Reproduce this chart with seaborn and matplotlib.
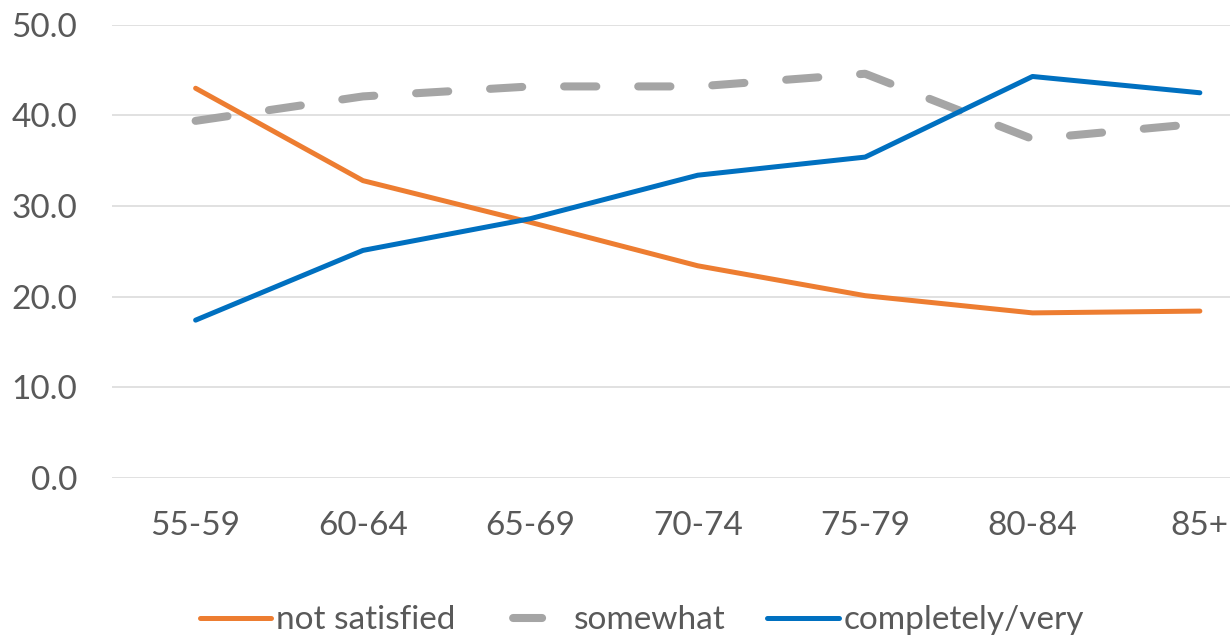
import pandas as pd
import matplotlib
matplotlib.use('Agg')
import matplotlib.pyplot as plt
import seaborn as sns

# ── Data ─────────────────────────────────────────────────────────────
age_groups = ['55-59', '60-64', '65-69', '70-74', '75-79', '80-84', '85+']
not_satisfied = [43.0, 32.8, 28.2, 23.4, 20.1, 18.2, 18.4]
somewhat = [39.4, 42.1, 43.2, 43.2, 44.6, 37.4, 39.1]
completely_very = [17.4, 25.1, 28.6, 33.4, 35.4, 44.3, 42.5]

sns.set_style('white')
plt.rcParams['font.family'] = ['Lato', 'DejaVu Sans']

text_color = '#595959'

fig = plt.figure(figsize=(12.30, 6.37), dpi=100)
ax = fig.add_axes([0.091, 0.250, 0.909, 0.711])

# ── Lines ────────────────────────────────────────────────────────────
sns.lineplot(x=age_groups, y=not_satisfied, ax=ax, color='#ED7D31',
             linewidth=3.6, solid_capstyle='round', label='not satisfied', sort=False)
sns.lineplot(x=age_groups, y=somewhat, ax=ax, color='#A5A5A5',
             linewidth=5.8, dashes=False, label='somewhat', sort=False)
sns.lineplot(x=age_groups, y=completely_very, ax=ax, color='#0070C0',
             linewidth=3.6, solid_capstyle='round', label='completely/very', sort=False)

gray_line = ax.get_lines()[1]
gray_line.set_dashes((4, 5.2))
gray_line.set_dash_capstyle('round')

# ── Axes styling ─────────────────────────────────────────────────────
ax.set_ylim(0, 50)
ax.set_xlim(-0.5, 6.18)
ax.set_yticks([0, 10, 20, 30, 40, 50])
ax.set_yticklabels([f'{v:.1f}' for v in [0, 10, 20, 30, 40, 50]])
ax.yaxis.grid(True, color='#D9D9D9', linewidth=1.1)
ax.set_axisbelow(True)
for spine in ax.spines.values():
    spine.set_visible(False)
ax.tick_params(axis='y', length=0, pad=25, labelsize=24, labelcolor=text_color)
ax.tick_params(axis='x', length=0, pad=24, labelsize=24, labelcolor=text_color)
ax.set_xlabel('')
ax.set_ylabel('')

# ── Legend ───────────────────────────────────────────────────────────
handles, labels = ax.get_legend_handles_labels()
ax.get_legend().remove()
leg = fig.legend(handles, labels, loc='center', bbox_to_anchor=(0.522, 0.026),
                 ncol=3, frameon=False, fontsize=24, handlelength=2.15,
                 handletextpad=0.15, columnspacing=1.25)
for t in leg.get_texts():
    t.set_color(text_color)
# single centred dash for the "somewhat" legend key
leg_gray = leg.get_lines()[1]
leg_gray.set_linestyle((11.6, (3.6, 10)))
leg_gray.set_dash_capstyle('round')

plt.savefig('out.png', dpi=100)
